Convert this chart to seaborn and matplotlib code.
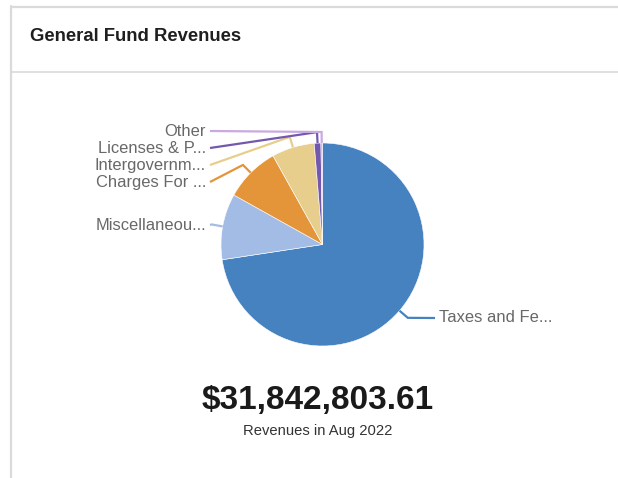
import numpy as np
import matplotlib
matplotlib.use("Agg")
import matplotlib.pyplot as plt
import seaborn as sns

# Revenue categories and amounts (USD)
categories = ["Taxes and Fees", "Miscellaneous", "Charges For Services",
              "Intergovernmental", "Licenses & Permits", "Other"]
amounts = [23117903.27, 3343494.38, 2802166.72, 2165310.65, 334349.44, 79579.15]
period_label = "Revenues in Aug 2022"
title = "General Fund Revenues"

colors = ["#4682c0", "#a3bce6", "#e4953a", "#e8ce8c", "#7359ad", "#c9aae0"]

# Label rows (pixel rows from the top of the card) for each category
label_rows = [318, 225, 182, 165, 148, 131]

sns.set_theme(style="white")
plt.rcParams["font.family"] = ["Liberation Sans", "DejaVu Sans"]

W, H = 618, 478
fig = plt.figure(figsize=(W / 100, H / 100), dpi=100)
ax = fig.add_axes([0, 0, 1, 1])


def py(y_top):
    """Convert a row measured from the top into data y."""
    return H - y_top


cx, cy, radius = 322.5, py(244.5), 101.5
wedges, _ = ax.pie(amounts, colors=colors, startangle=90, counterclock=False,
                   center=(cx, cy), radius=radius,
                   wedgeprops=dict(edgecolor="white", linewidth=0.4))
ax.set_xlim(0, W)
ax.set_ylim(0, H)
ax.set_aspect("auto")
ax.axis("off")


def short(name, n=12):
    return name if len(name) <= n else name[:n] + "..."


# Leader lines and labels
for w, name, col, row in zip(wedges, categories, colors, label_rows):
    mid = np.deg2rad((w.theta1 + w.theta2) / 2)
    ux, uy = np.cos(mid), np.sin(mid)
    ax_, ay_ = cx + radius * ux, cy + radius * uy
    ex, ey = cx + (radius + 11) * ux, cy + (radius + 11) * uy
    right = ux >= 0
    lx = 435 if right else 210
    ax.plot([ax_, ex, lx], [ay_, ey, py(row)], color=col, lw=1.6,
            solid_capstyle="butt", solid_joinstyle="miter", zorder=3)
    ax.text(lx + 4 if right else lx - 4, py(row), short(name),
            ha="left" if right else "right", va="center",
            fontsize=11.9, color="#686868")

# Card frame
frame_col = "#dadada"
ax.plot([11, W], [py(6.5), py(6.5)], color=frame_col, lw=1.6)
ax.plot([11, W], [py(72), py(72)], color=frame_col, lw=1.2)
ax.plot([11, 11], [py(6), 0], color=frame_col, lw=1.6)

# Header title
ax.text(30, py(36), title, ha="left", va="center", fontsize=13.3,
        fontweight="bold", color="#1f1f1f")

# Total and caption
total = sum(amounts)
ax.text(318, py(400), f"${total:,.2f}", ha="center", va="center",
        fontsize=24, fontweight="bold", color="#1a1a1a")
ax.text(318, py(431), period_label, ha="center", va="center",
        fontsize=10.6, color="#333333")

fig.savefig("out.png", dpi=100, facecolor="white")
